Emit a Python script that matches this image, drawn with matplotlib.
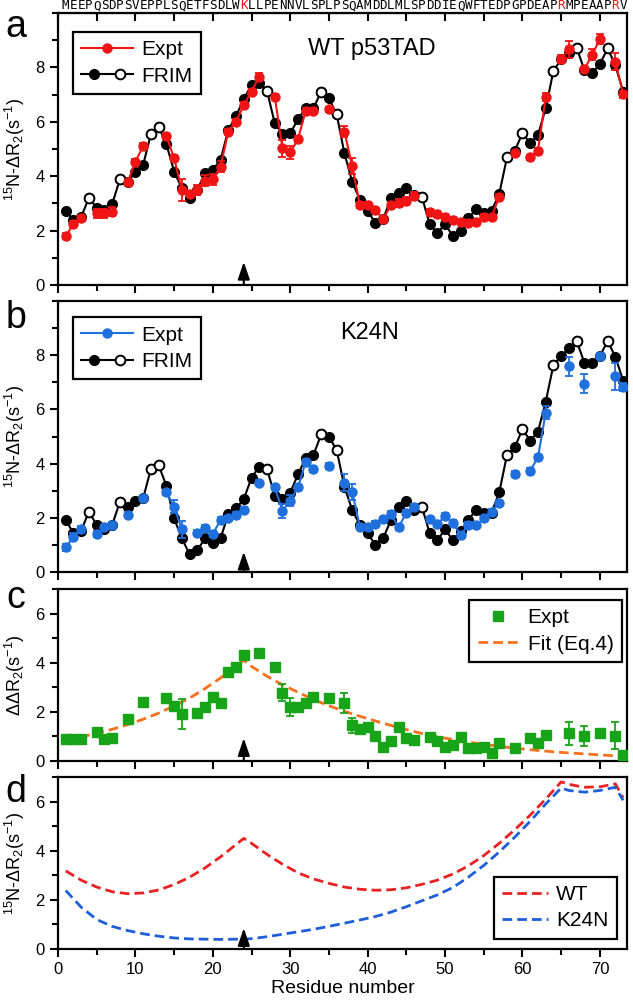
import numpy as np
import matplotlib
matplotlib.use('Agg')
import matplotlib.pyplot as plt
from matplotlib.lines import Line2D
from matplotlib.legend_handler import HandlerTuple
from matplotlib.ticker import MultipleLocator

plt.rcParams['font.family'] = ['Liberation Sans', 'DejaVu Sans']
plt.rcParams['mathtext.fontset'] = 'custom'
plt.rcParams['mathtext.rm'] = 'Liberation Sans'
plt.rcParams['mathtext.it'] = 'Liberation Sans:italic'

# ---- data ----
sequence = "MEEPQSDPSVEPPLSQETFSDLWKLLPENNVLSPLPSQAMDDLMLSPDDIEQWFTEDPGPDEAPRMPEAAPRV"
highlight = [24, 65, 72]
residues = np.arange(1, 74)

N = None
wt_expt = [1.80, 2.24, 2.45, N, 2.63, 2.63, 2.70, N, 3.77, 4.53,
           5.11, N, N, 5.48, 4.66, 3.49, 3.35, 3.49, 3.84, 3.89,
           4.35, 5.64, 6.00, 6.62, 7.11, 7.66, N, 6.92, 5.02, 4.87,
           5.36, 6.41, 6.41, N, 6.46, N, 5.64, 4.38, 2.94, 2.94,
           2.76, 2.41, 2.94, 3.00, 3.09, 3.28, N, 2.68, 2.61, 2.51,
           2.39, 2.33, 2.27, 2.30, 2.51, 2.49, 3.25, N, 4.84, N,
           4.69, 4.93, 6.90, N, 8.30, 8.66, N, 7.93, 8.46, 9.04,
           N, 8.21, 7.01]
wt_err = [0.12, 0.1, 0.1, N, 0.15, 0.15, 0.15, N, 0.1, 0.1,
          0.1, N, N, 0.1, 0.12, 0.4, 0.1, 0.2, 0.2, 0.2,
          0.2, 0.1, 0.1, 0.1, 0.1, 0.12, N, 0.1, 0.3, 0.25,
          0.1, 0.1, 0.1, N, 0.1, N, 0.2, 0.3, 0.1, 0.1,
          0.1, 0.1, 0.1, 0.15, 0.15, 0.15, N, 0.1, 0.1, 0.1,
          0.1, 0.1, 0.1, 0.1, 0.1, 0.1, 0.1, N, 0.1, N,
          0.1, 0.1, 0.15, N, 0.15, 0.3, N, 0.1, 0.2, 0.2,
          N, 0.3, 0.12]
wt_frim = [2.72, 2.39, 2.50, 3.21, 2.84, 2.76, 2.97, 3.89, 3.80, 4.17,
           4.41, 5.55, 5.82, 5.18, 4.17, 3.55, 3.19, 3.50, 4.10, 4.23,
           4.60, 5.70, 6.21, 6.84, 7.35, 7.41, 7.14, 5.94, 5.55, 5.58,
           6.09, 6.50, 6.50, 7.11, 6.86, 6.27, 4.84, 3.80, 3.13, 2.73,
           2.27, 2.41, 3.19, 3.39, 3.58, 3.30, 3.25, 2.24, 1.90, 2.24,
           1.80, 2.00, 2.45, 2.78, 2.66, 2.72, 3.35, 4.69, 4.93, 5.58,
           5.21, 5.51, 6.49, 7.87, 8.30, 8.52, 8.72, 7.90, 7.80, 8.11,
           8.70, 8.07, 7.11]

k24n_expt = [0.91, 1.28, 1.59, N, 1.40, 1.65, 1.73, N, 2.10, N,
             2.72, N, N, 2.94, 2.41, 1.57, N, 1.45, 1.64, 1.40,
             1.92, 1.98, 2.10, 2.29, N, 3.30, N, 3.12, 2.26, 2.63,
             3.12, 4.07, 3.80, N, 3.92, N, 3.30, 2.96, 1.67, 1.65,
             1.77, 1.94, 2.14, 1.65, 2.19, 2.41, N, 1.94, 1.77, 2.07,
             1.82, 1.37, 1.73, 1.73, 1.98, 2.23, 2.56, N, 3.62, N,
             3.74, 4.23, 5.88, N, N, 7.60, N, 6.94, N, 7.97,
             N, 7.23, 6.82]
k24n_err = [0.12, 0.15, 0.1, N, 0.1, 0.1, 0.1, N, 0.12, N,
            0.1, N, N, 0.1, 0.25, 0.3, N, 0.1, 0.1, 0.1,
            0.1, 0.1, 0.1, 0.1, N, 0.1, N, 0.1, 0.25, 0.2,
            0.1, 0.1, 0.1, N, 0.1, N, 0.3, 0.3, 0.1, 0.1,
            0.1, 0.1, 0.1, 0.1, 0.1, 0.1, N, 0.1, 0.1, 0.1,
            0.1, 0.1, 0.1, 0.1, 0.1, 0.1, 0.1, N, 0.1, N,
            0.1, 0.1, 0.25, N, N, 0.35, N, 0.35, N, 0.1,
            N, 0.5, 0.15]
k24n_frim = [1.92, 1.43, 1.53, 2.23, 1.73, 1.57, 1.73, 2.60, 2.39, 2.63,
             2.72, 3.80, 3.95, 3.18, 1.98, 1.24, 0.66, 0.81, 1.24, 1.06,
             1.24, 2.14, 2.35, 2.69, 3.48, 3.89, 3.80, 2.82, 2.68, 2.93,
             3.60, 4.20, 4.32, 5.08, 4.99, 4.50, 3.15, 2.29, 1.73, 1.43,
             1.00, 1.24, 1.92, 2.39, 2.63, 2.29, 2.41, 1.45, 1.18, 1.57,
             1.18, 1.50, 1.92, 2.29, 2.19, 2.19, 2.94, 4.32, 4.60, 5.27,
             4.85, 5.18, 6.28, 7.64, 7.97, 8.25, 8.52, 7.72, 7.72, 7.97,
             8.52, 7.94, 7.06]

ddr2 = [0.88, 0.90, 0.88, N, 1.19, 0.90, 0.92, N, 1.71, N,
        2.41, N, N, 2.55, 2.24, 1.91, N, 1.96, 2.19, 2.61,
        2.37, 3.63, 3.83, 4.31, N, 4.40, N, 3.81, 2.78, 2.20,
        2.20, 2.37, 2.59, N, 2.55, N, 2.37, 1.46, 1.30, 1.37,
        1.03, 0.56, 0.83, 1.37, 0.92, 0.85, N, 0.96, 0.83, 0.56,
        0.66, 0.99, 0.52, 0.52, 0.58, 0.31, 0.72, N, 0.52, N,
        0.95, 0.72, 1.05, N, N, 1.12, N, 1.03, N, 1.12,
        N, 1.03, 0.24]
ddr2_err = [0.1, 0.15, 0.1, N, 0.1, 0.1, 0.1, N, 0.1, N,
            0.1, N, N, 0.1, 0.15, 0.6, N, 0.1, 0.1, 0.15,
            0.15, 0.1, 0.1, 0.1, N, 0.1, N, 0.1, 0.35, 0.35,
            0.1, 0.15, 0.1, N, 0.1, N, 0.4, 0.3, 0.1, 0.1,
            0.1, 0.1, 0.1, 0.1, 0.1, 0.1, N, 0.1, 0.1, 0.1,
            0.1, 0.1, 0.1, 0.1, 0.1, 0.1, 0.1, N, 0.1, N,
            0.1, 0.1, 0.1, N, N, 0.45, N, 0.4, N, 0.1,
            N, 0.55, 0.1]

fit_res = [1, 3, 5, 7, 9, 11, 13, 15, 17, 19, 21, 23, 24, 25, 27, 29, 31, 33, 35,
           37, 39, 41, 44, 47, 50, 53, 56, 59, 62, 65, 68, 71, 73]
fit_val = [0.85, 0.98, 1.13, 1.29, 1.48, 1.70, 1.95, 2.24, 2.56, 2.95, 3.38, 3.87,
           4.10, 3.85, 3.45, 3.10, 2.80, 2.50, 2.25, 2.02, 1.82, 1.63, 1.36, 1.12,
           0.93, 0.77, 0.64, 0.52, 0.43, 0.35, 0.29, 0.23, 0.20]

model_res = [1, 3, 5, 7, 9, 11, 13, 15, 17, 19, 21, 23, 24, 25, 27, 29, 31, 33, 35,
             37, 39, 41, 43, 45, 47, 49, 51, 53, 55, 57, 59, 61, 63, 65, 66, 68, 70,
             72, 73]
model_wt = [3.18, 2.80, 2.52, 2.33, 2.25, 2.28, 2.40, 2.62, 2.92, 3.30, 3.75, 4.25,
            4.50, 4.30, 3.85, 3.45, 3.10, 2.85, 2.67, 2.52, 2.43, 2.39, 2.41, 2.49,
            2.63, 2.80, 3.05, 3.38, 3.80, 4.30, 4.85, 5.45, 6.10, 6.80, 6.70, 6.58,
            6.60, 6.72, 6.15]
model_k24n = [2.38, 1.70, 1.20, 0.92, 0.75, 0.62, 0.52, 0.45, 0.41, 0.40, 0.39, 0.40,
              0.40, 0.42, 0.50, 0.60, 0.70, 0.80, 0.92, 1.05, 1.18, 1.32, 1.50, 1.72,
              1.96, 2.20, 2.50, 2.92, 3.40, 3.95, 4.55, 5.20, 5.90, 6.55, 6.45, 6.38,
              6.45, 6.58, 6.05]


def arr(v):
    return np.array([np.nan if a is None else a for a in v], dtype=float)


prolines = np.array([i + 1 for i, c in enumerate(sequence) if c == 'P'])

RED = '#f01414'
BLUE = '#1f6fdc'
GREEN = '#18a418'
ORANGE = '#f8701e'
DRED = '#e82222'
DBLUE = '#1e5fd8'
DASH = (0, (3.5, 1.8))

fig = plt.figure(figsize=(6.33, 10.02), dpi=100)
L, W = 0.0916, 0.8989
ax_a = fig.add_axes([L, 0.7156, W, 0.2715])
ax_b = fig.add_axes([L, 0.4291, W, 0.2705])
ax_c = fig.add_axes([L, 0.2405, W, 0.1717])
ax_d = fig.add_axes([L, 0.0529, W, 0.1717])

ylab = r'$^{15}$N-ΔR$_2$(s$^{-1}$)'


def style(ax, ymax, yticks, label):
    ax.set_xlim(0, 73.5)
    ax.set_ylim(0, ymax)
    ax.xaxis.set_major_locator(MultipleLocator(10))
    ax.xaxis.set_minor_locator(MultipleLocator(5))
    ax.set_yticks(yticks)
    ax.yaxis.set_minor_locator(MultipleLocator(1))
    ax.tick_params(which='both', direction='out', width=1.5, labelsize=12)
    ax.tick_params(which='major', length=6)
    ax.tick_params(which='minor', length=4)
    for s in ax.spines.values():
        s.set_linewidth(1.6)
    ax.set_ylabel(ylab if label is None else label, fontsize=13)
    ax.yaxis.set_label_coords(-0.054, 0.5)


def frim(ax, vals):
    v = arr(vals)
    ax.plot(residues, v, '-o', color='k', lw=1.5, ms=7, zorder=2)
    idx = prolines - 1
    ax.plot(prolines, v[idx], 'o', ms=7, mfc='white', mec='k', mew=1.4, zorder=3)


def expt(ax, vals, err, col):
    ax.errorbar(residues, arr(vals), yerr=arr(err), fmt='-o', color=col, lw=1.5,
                ms=6.5, capsize=3, elinewidth=1.3, capthick=1.3, zorder=4)


def arrow(ax, tip):
    ax.annotate('', xy=(24, tip), xytext=(24, 0),
                arrowprops=dict(arrowstyle='-|>,head_length=1.05,head_width=0.36',
                                color='k', lw=1.5, shrinkA=0, shrinkB=0), zorder=6)


frim_handle = (Line2D([], [], color='k', lw=1.5, marker='o', ms=7),
               Line2D([], [], color='k', lw=1.5, marker='o', ms=7, mfc='white', mew=1.4))
leg_kw = dict(fontsize=15, frameon=True, fancybox=False, framealpha=1, edgecolor='k',
              borderaxespad=0, handletextpad=0.4, borderpad=0.4, labelspacing=0.35,
              numpoints=1, handler_map={tuple: HandlerTuple(ndivide=None, pad=0)})

# ---- panel a ----
style(ax_a, 10, [0, 2, 4, 6, 8], None)
frim(ax_a, wt_frim)
expt(ax_a, wt_expt, wt_err, RED)
arrow(ax_a, 0.85)
ax_a.set_xticklabels([])
top = ax_a.secondary_xaxis('top')
top.xaxis.set_major_locator(MultipleLocator(5))
top.tick_params(direction='in', length=6, width=1.5, labeltop=False)
ax_a.text(0.552, 0.868, 'WT p53TAD', transform=ax_a.transAxes, fontsize=17,
          ha='center', va='center')
lg = ax_a.legend([Line2D([], [], color=RED, lw=1.5, marker='o', ms=6.5), frim_handle],
                 ['Expt', 'FRIM'], loc='upper left', bbox_to_anchor=(0.026, 0.93),
                 handlelength=2.5, **leg_kw)
lg.get_frame().set_linewidth(1.6)
for i, ch in enumerate(sequence):
    ax_a.text(i + 1, 1.026, ch, transform=ax_a.get_xaxis_transform(), ha='center',
              va='center', fontsize=9, family='DejaVu Sans Mono',
              color=RED if (i + 1) in highlight else 'k')

# ---- panel b ----
style(ax_b, 10, [0, 2, 4, 6, 8], None)
frim(ax_b, k24n_frim)
expt(ax_b, k24n_expt, k24n_err, BLUE)
arrow(ax_b, 0.75)
ax_b.set_xticklabels([])
ax_b.text(0.547, 0.882, 'K24N', transform=ax_b.transAxes, fontsize=17,
          ha='center', va='center')
lg = ax_b.legend([Line2D([], [], color=BLUE, lw=1.5, marker='o', ms=6.5), frim_handle],
                 ['Expt', 'FRIM'], loc='upper left', bbox_to_anchor=(0.026, 0.94),
                 handlelength=2.5, **leg_kw)
lg.get_frame().set_linewidth(1.6)

# ---- panel c ----
style(ax_c, 7, [0, 2, 4, 6], r'ΔΔR$_2$(s$^{-1}$)')
ax_c.plot(fit_res, fit_val, color=ORANGE, lw=2, ls=DASH, zorder=2)
ax_c.errorbar(residues, arr(ddr2), yerr=arr(ddr2_err), fmt='s', color=GREEN, ms=6.5,
              capsize=3, elinewidth=1.3, capthick=1.3, zorder=4)
arrow(ax_c, 0.93)
ax_c.set_xticklabels([])
lg = ax_c.legend([Line2D([], [], color=GREEN, ls='none', marker='s', ms=6.5),
                  Line2D([], [], color=ORANGE, lw=2, ls=DASH)],
                 ['Expt', 'Fit (Eq.4)'], loc='upper right', bbox_to_anchor=(0.991, 0.936),
                 handlelength=2.0, **leg_kw)
lg.get_frame().set_linewidth(1.6)

# ---- panel d ----
style(ax_d, 7, [0, 2, 4, 6], None)
ax_d.plot(model_res, model_wt, color=DRED, lw=2, ls=DASH, label='WT')
ax_d.plot(model_res, model_k24n, color=DBLUE, lw=2, ls=DASH, label='K24N')
arrow(ax_d, 0.85)
ax_d.set_xlabel('Residue number', fontsize=14, labelpad=2)
lg = ax_d.legend(loc='lower right', bbox_to_anchor=(0.982, 0.06), handlelength=2.2,
                 **leg_kw)
lg.get_frame().set_linewidth(1.6)

for lab, y in zip('abcd', [27, 318, 598, 792]):
    fig.text(16 / 633, 1 - y / 1002, lab, fontsize=27, ha='center', va='center')

fig.savefig('out.png', dpi=100)
